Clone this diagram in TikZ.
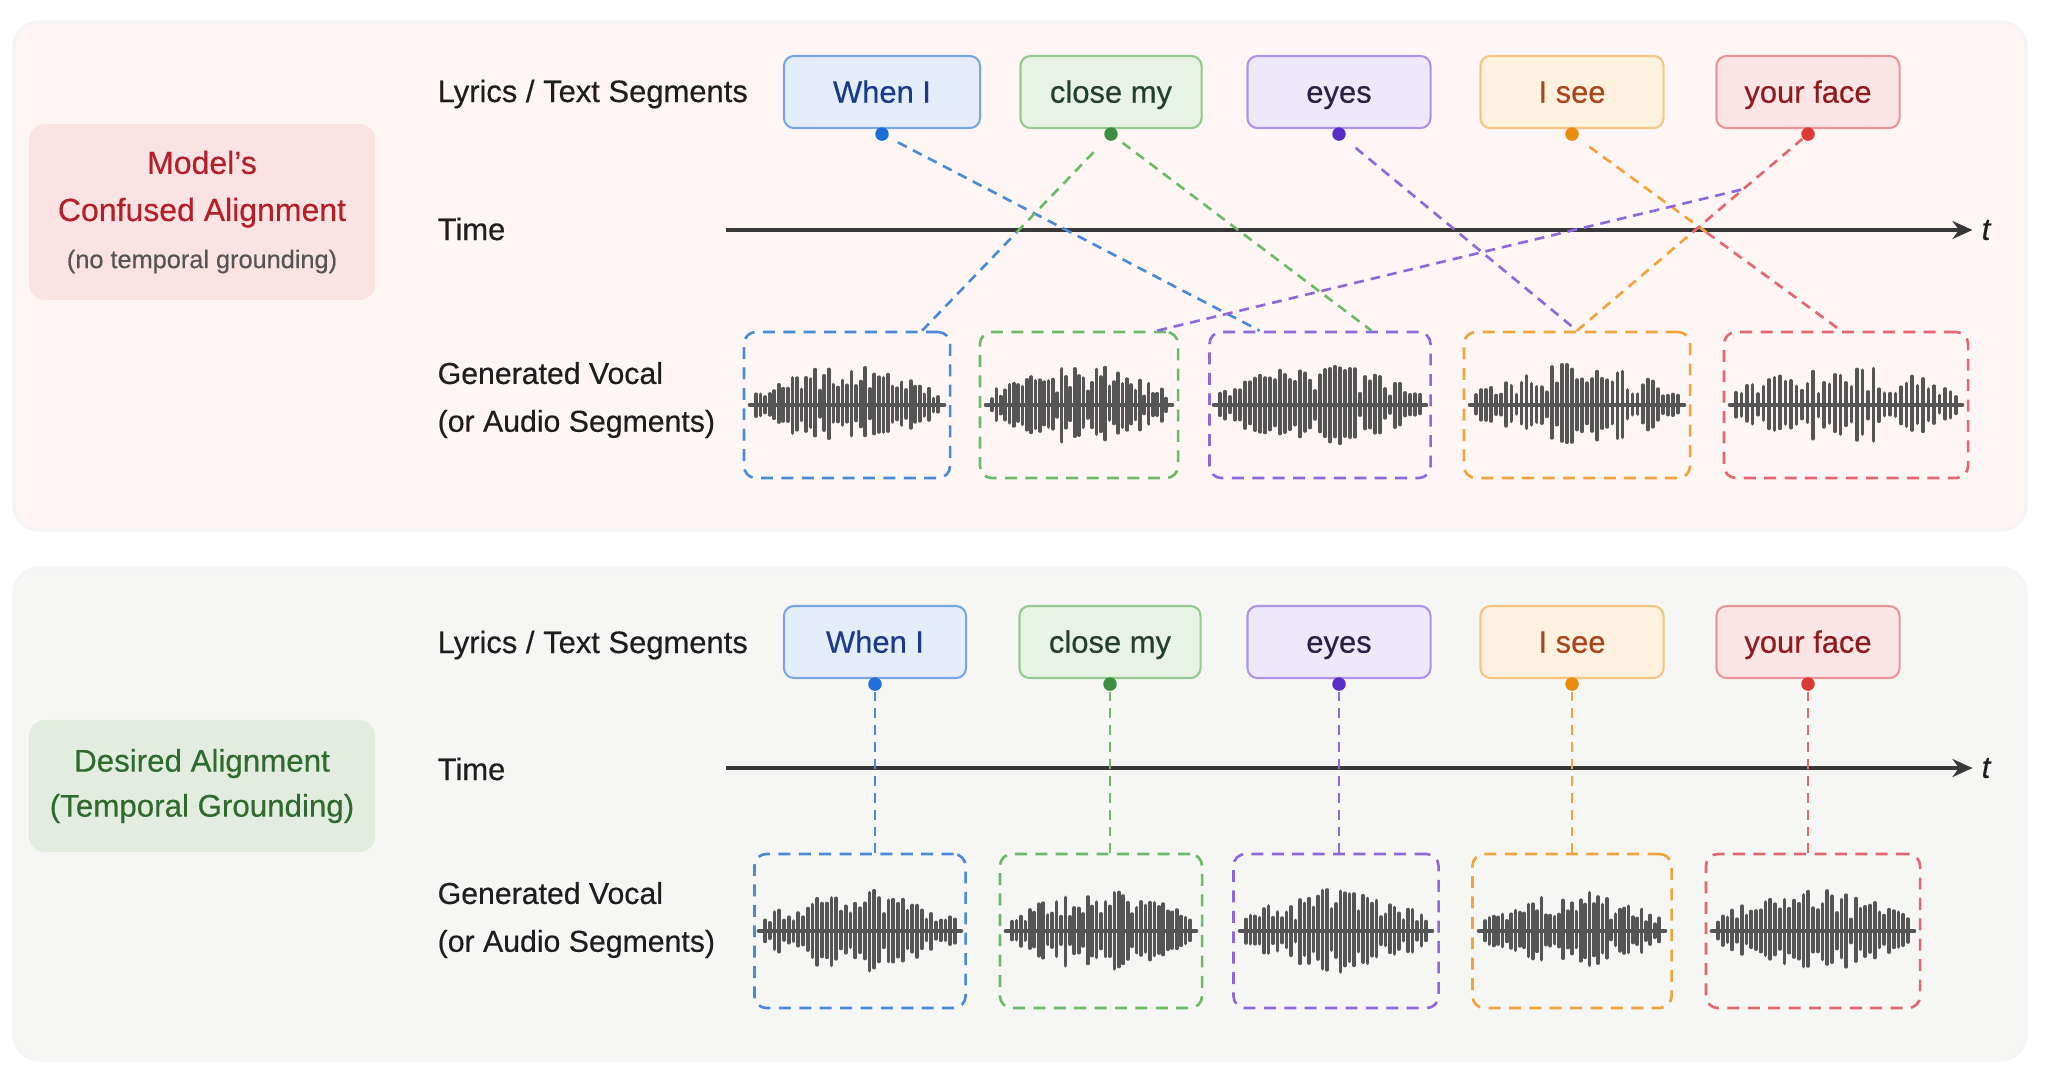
\documentclass[tikz,border=0pt]{standalone}
\usepackage{fontspec}
\setmainfont{Liberation Sans}[FakeBold=0.45]
\usetikzlibrary{positioning, calc, arrows.meta}

\definecolor{txtdark}{HTML}{1E1E1E}
\definecolor{wavegray}{HTML}{555555}
\definecolor{topbg}{HTML}{FDF6F5}
\definecolor{botbg}{HTML}{F6F7F4}
\definecolor{sidered}{HTML}{FBE3E3}
\definecolor{sidegreen}{HTML}{E3EDDF}
\definecolor{redtitle}{HTML}{B3202A}
\definecolor{greentitle}{HTML}{2F6B2F}
\definecolor{subgray}{HTML}{555555}
% line / dot / fill / edge / text colours
\definecolor{cblue}{HTML}{4A8AD9}
\definecolor{dblue}{HTML}{1F6FD6}
\definecolor{fblue}{HTML}{E4EEFB}
\definecolor{eblue}{HTML}{7AA7E3}
\definecolor{tblue}{HTML}{1C3A8A}
\definecolor{cgreen}{HTML}{6DBB6A}
\definecolor{dgreen}{HTML}{3E8E41}
\definecolor{fgreen}{HTML}{E7F3E3}
\definecolor{egreen}{HTML}{95C98F}
\definecolor{tgreen}{HTML}{23402A}
\definecolor{cpurple}{HTML}{9068DD}
\definecolor{dpurple}{HTML}{5A2DC8}
\definecolor{fpurple}{HTML}{EEE8FB}
\definecolor{epurple}{HTML}{AF93E8}
\definecolor{tpurple}{HTML}{2A2145}
\definecolor{corange}{HTML}{F2A43A}
\definecolor{dorange}{HTML}{E98C12}
\definecolor{forange}{HTML}{FEF1DF}
\definecolor{eorange}{HTML}{F4C583}
\definecolor{torange}{HTML}{A9461D}
\definecolor{cred}{HTML}{E46770}
\definecolor{dred}{HTML}{DD3A35}
\definecolor{fred}{HTML}{FBE5E5}
\definecolor{ered}{HTML}{EA9597}
\definecolor{tred}{HTML}{8E1B1F}

\tikzset{
  rowlabel/.style={anchor=base west, inner sep=0pt, text=txtdark, font=\fontsize{8.8}{13.6}\selectfont},
  lyricbox/.style={draw, line width=0.6pt, rounded corners=1mm, minimum width=1.83cm, minimum height=0.72cm,
    text height=1.6ex, text depth=0.45ex, font=\fontsize{8.8}{10}\selectfont},
  audiobox/.style={draw, line width=0.75pt, dash pattern=on 3.4pt off 2.4pt, rounded corners=1.2mm},
  tapdot/.style={circle, inner sep=0pt, minimum size=1.35mm},
  link/.style={line width=0.75pt, dash pattern=on 2.8pt off 2pt},
  timeaxis/.style={line width=0.9pt, draw=black!78, -{Stealth[length=2mm, width=1.8mm]}},
  sidebox/.style={rounded corners=1.6mm, minimum width=3.46cm, align=center},
  wavebar/.style={line width=1.05pt, draw=wavegray, line cap=round},
  wavecore/.style={line width=1.3pt, draw=wavegray, line cap=round},
}

% waveform: node, half span (px), seed
\newcommand{\wavebars}[3]{%
  \pgfmathsetseed{#3}
  \draw[wavecore] ($(#1.center)+(-#2-6,0)$) -- ($(#1.center)+(#2+6,0)$);
  \foreach \k in {-20,...,20}{
    \pgfmathsetmacro{\wx}{\k*#2/20}
    \pgfmathsetmacro{\wenv}{(1-abs(\k)/21)^0.5}
    \pgfmathsetmacro{\whi}{4+40*\wenv*(0.2+0.8*rnd^0.8)}
    \pgfmathsetmacro{\wlo}{\whi*(0.8+0.25*rnd)}
    \draw[wavebar] ($(#1.center)+(\wx,-\whi)$) -- ($(#1.center)+(\wx,\wlo)$);
  }
}

\begin{document}
\begin{tikzpicture}[x=0.01cm, y=-0.01cm]
\useasboundingbox (0,0) rectangle (2048,1078);

% panels
\filldraw[fill=topbg, draw=black!4, line width=1pt, rounded corners=2.5mm] (14,22) rectangle (2026,530);
\filldraw[fill=botbg, draw=black!4, line width=1pt, rounded corners=2.5mm] (14,568) rectangle (2026,1060);

% ---------------- confused alignment ----------------
\node[sidebox, fill=sidered, minimum height=1.76cm, text=redtitle, font=\fontsize{9.1}{13.4}\selectfont] (conf) at (202,212)
  {Model’s\\Confused Alignment\\{\color{subgray}\fontsize{7.2}{13.4}\selectfont (no temporal grounding)}};

\node[rowlabel] (lyr1) at (437,102) {Lyrics / Text Segments};
\node[rowlabel] (time1) at (437,240) {Time};
\node[rowlabel, anchor=west, align=left, font=\fontsize{8.6}{13.6}\selectfont] (voc1) at (437,400) {Generated Vocal\\(or Audio Segments)};

\node[lyricbox, fill=fblue, draw=eblue, text=tblue, minimum width=1.96cm] (w1) at (882,92) {When I};
\node[lyricbox, fill=fgreen, draw=egreen, text=tgreen, minimum width=1.81cm] (c1) at (1111,92) {close my};
\node[lyricbox, fill=fpurple, draw=epurple, text=tpurple] (e1) at (1339,92) {eyes};
\node[lyricbox, fill=forange, draw=eorange, text=torange] (i1) at (1572,92) {I see};
\node[lyricbox, fill=fred, draw=ered, text=tred] (y1) at (1808,92) {your face};

\node[tapdot, fill=dblue] (wd1) at ([yshift=-0.5mm]w1.south) {};
\node[tapdot, fill=dgreen] (cd1) at ([yshift=-0.5mm]c1.south) {};
\node[tapdot, fill=dpurple] (ed1) at ([yshift=-0.5mm]e1.south) {};
\node[tapdot, fill=dorange] (id1) at ([yshift=-0.5mm]i1.south) {};
\node[tapdot, fill=dred] (yd1) at ([yshift=-0.5mm]y1.south) {};

\coordinate (t0) at (726,230);
\node[inner sep=0.5mm, text=txtdark, font=\fontsize{8.8}{10}\selectfont\itshape] (tl1) at (1986,230) {t};
\draw[timeaxis, shorten >=1pt] (t0) -- (tl1);

\node[audiobox, draw=cblue, minimum width=2.06cm, minimum height=1.46cm] (a1) at (847,405) {};
\node[audiobox, draw=cgreen, minimum width=1.98cm, minimum height=1.46cm] (a2) at (1079,405) {};
\node[audiobox, draw=cpurple, minimum width=2.21cm, minimum height=1.46cm] (a3) at (1320,405) {};
\node[audiobox, draw=corange, minimum width=2.26cm, minimum height=1.46cm] (a4) at (1577,405) {};
\node[audiobox, draw=cred, minimum width=2.44cm, minimum height=1.46cm] (a5) at (1846,405) {};

\wavebars{a1}{91}{11}
\wavebars{a2}{87}{23}
\wavebars{a3}{100}{37}
\wavebars{a4}{101}{41}
\wavebars{a5}{110}{53}

% where the wrong links touch the segments
\coordinate (a1r) at ($(a1.north west)!0.86!(a1.north east)$);
\coordinate (a2r) at ($(a2.north west)!0.89!(a2.north east)$);
\coordinate (a3l) at ($(a3.north west)!0.23!(a3.north east)$);
\coordinate (a3r) at ($(a3.north west)!0.73!(a3.north east)$);
\coordinate (a4m) at ($(a4.north west)!0.5!(a4.north east)$);
\coordinate (a5l) at ($(a5.north west)!0.48!(a5.north east)$);
\coordinate (mx1) at ($(a1r)!0.5!(cd1)$);
\coordinate (mx2) at ($(id1)!0.5!(a5l)$);
\coordinate (mx3) at ($(a4m)!0.5!(yd1)$);
\coordinate (mx4) at ($(yd1)!0.28!(a4m)$);

\draw[link, cblue, shorten <=3pt] (wd1) -- (a3l);
\draw[link, cgreen, shorten <=2pt] (cd1) -- (a3r);
\draw[link, cblue] (a1r) -- (mx1);
\draw[link, cgreen, shorten >=4pt] (mx1) -- (cd1);
\draw[link, cpurple, shorten <=4pt] (ed1) -- (a4m);
\draw[link, corange, shorten <=4pt] (id1) -- (mx2);
\draw[link, cred] (mx2) -- (a5l);
\draw[link, corange] (a4m) -- (mx3);
\draw[link, cred] (mx3) -- (yd1);
\draw[link, cpurple] (a2r) -- (mx4);

% ---------------- desired alignment ----------------
\node[sidebox, fill=sidegreen, minimum height=1.32cm, text=greentitle, font=\fontsize{8.9}{12.8}\selectfont] (want) at (202,786)
  {Desired Alignment\\(Temporal Grounding)};

\node[rowlabel] (lyr2) at (437,653) {Lyrics / Text Segments};
\node[rowlabel] (time2) at (437,780) {Time};
\node[rowlabel, anchor=west, align=left, font=\fontsize{8.6}{13.6}\selectfont] (voc2) at (437,920) {Generated Vocal\\(or Audio Segments)};

\node[lyricbox, fill=fblue, draw=eblue, text=tblue, minimum width=1.82cm] (w2) at (875,642) {When I};
\node[lyricbox, fill=fgreen, draw=egreen, text=tgreen, minimum width=1.81cm] (c2) at (1110,642) {close my};
\node[lyricbox, fill=fpurple, draw=epurple, text=tpurple] (e2) at (1339,642) {eyes};
\node[lyricbox, fill=forange, draw=eorange, text=torange] (i2) at (1572,642) {I see};
\node[lyricbox, fill=fred, draw=ered, text=tred] (y2) at (1808,642) {your face};

\node[tapdot, fill=dblue] (wd2) at ([yshift=-0.5mm]w2.south) {};
\node[tapdot, fill=dgreen] (cd2) at ([yshift=-0.5mm]c2.south) {};
\node[tapdot, fill=dpurple] (ed2) at ([yshift=-0.5mm]e2.south) {};
\node[tapdot, fill=dorange] (id2) at ([yshift=-0.5mm]i2.south) {};
\node[tapdot, fill=dred] (yd2) at ([yshift=-0.5mm]y2.south) {};

\coordinate (t2) at (726,768);
\node[inner sep=0.5mm, text=txtdark, font=\fontsize{8.8}{10}\selectfont\itshape] (tl2) at (1986,768) {t};
\draw[timeaxis, shorten >=1pt] (t2) -- (tl2);

\node[audiobox, draw=cblue, minimum width=2.11cm, minimum height=1.54cm] (b1) at (860,931) {};
\node[audiobox, draw=cgreen, minimum width=2.02cm, minimum height=1.54cm] (b2) at (1101,931) {};
\node[audiobox, draw=cpurple, minimum width=2.05cm, minimum height=1.54cm] (b3) at (1336,931) {};
\node[audiobox, draw=corange, minimum width=1.99cm, minimum height=1.54cm] (b4) at (1572,931) {};
\node[audiobox, draw=cred, minimum width=2.14cm, minimum height=1.54cm] (b5) at (1813,931) {};

\wavebars{b1}{95}{67}
\wavebars{b2}{89}{71}
\wavebars{b3}{90}{83}
\wavebars{b4}{87}{97}
\wavebars{b5}{95}{101}

\draw[link, cblue] (wd2) -- (wd2 |- b1.north);
\draw[link, cgreen] (cd2) -- (cd2 |- b2.north);
\draw[link, cpurple] (ed2) -- (ed2 |- b3.north);
\draw[link, corange] (id2) -- (id2 |- b4.north);
\draw[link, cred] (yd2) -- (yd2 |- b5.north);

\end{tikzpicture}
\end{document}
